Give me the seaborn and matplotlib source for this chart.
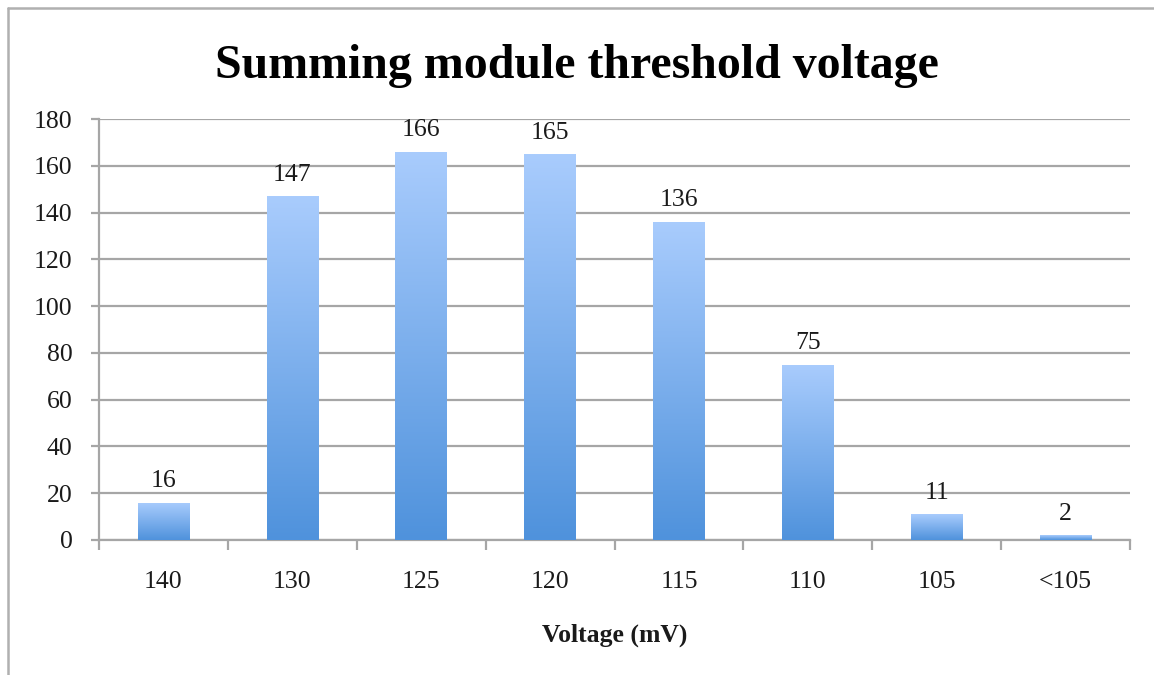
import numpy as np
import pandas as pd
import matplotlib
matplotlib.use("Agg")
import matplotlib.pyplot as plt
import seaborn as sns
from matplotlib.colors import LinearSegmentedColormap
from matplotlib.lines import Line2D

categories = ["140", "130", "125", "120", "115", "110", "105", "<105"]
counts = [16, 147, 166, 165, 136, 75, 11, 2]
y_ticks = [0, 20, 40, 60, 80, 100, 120, 140, 160, 180]

sns.set_theme(style="white")
plt.rcParams["font.family"] = ["Liberation Serif", "DejaVu Serif"]

df = pd.DataFrame({"voltage": categories, "count": counts})

fig = plt.figure(figsize=(11.54, 6.75), dpi=100)
ax = fig.add_axes([99 / 1154, 1 - 540 / 675, (1130 - 99) / 1154, (540 - 119) / 675])

sns.barplot(data=df, x="voltage", y="count", order=categories, width=0.40,
            color="#7fb0ee", ax=ax, zorder=3)

grid_col = "#a6a6a6"
ax.set_ylim(0, 180)
ax.set_xlim(-0.5, len(categories) - 0.5)
ax.set_yticks(y_ticks)
ax.yaxis.grid(True, color=grid_col, linewidth=1.6, zorder=0)
ax.set_axisbelow(True)

# vertical gradient fill for each bar (light top, deeper blue bottom)
cmap = LinearSegmentedColormap.from_list("bar_grad", ["#4f92dc", "#a9ccfd"])
grad = np.linspace(0, 1, 256).reshape(-1, 1)
for patch in list(ax.patches):
    x0, y0 = patch.get_x(), patch.get_y()
    w, h = patch.get_width(), patch.get_height()
    patch.set_facecolor("none")
    patch.set_edgecolor("none")
    im = ax.imshow(grad, cmap=cmap, origin="lower", aspect="auto",
                   extent=[x0, x0 + w, y0, y0 + h], zorder=3)
    im.set_clip_path(patch)
ax.set_xlim(-0.5, len(categories) - 0.5)
ax.set_ylim(0, 180)

# value labels above bars
for i, v in enumerate(counts):
    ax.text(i, v + 4.5, str(v), ha="center", va="bottom", fontsize=18.5,
            color="#1a1a1a", zorder=4)

for side in ["top", "right"]:
    ax.spines[side].set_visible(False)
for side in ["left", "bottom"]:
    ax.spines[side].set_color(grid_col)
    ax.spines[side].set_linewidth(1.6)

ax.tick_params(axis="y", which="major", left=True, length=6, width=1.6,
               color=grid_col, labelsize=18.5, labelcolor="#1a1a1a", pad=13)
ax.tick_params(axis="x", which="major", bottom=False, labelsize=18.5,
               labelcolor="#1a1a1a", pad=16)
# category divider ticks on the x axis
ax.set_xticks(np.arange(-0.5, len(categories), 1.0), minor=True)
ax.tick_params(axis="x", which="minor", bottom=True, length=7, width=1.6,
               color=grid_col, direction="out")

ax.set_xlabel("Voltage (mV)", fontsize=18.5, fontweight="bold", labelpad=22,
              color="#1a1a1a")
ax.set_ylabel("")

fig.text(0.5, 1 - 66 / 675, "Summing module threshold voltage", ha="center",
         va="center", fontsize=34.5, fontweight="bold", color="black")

# chart frame
fig.add_artist(Line2D([7.5 / 1154, 7.5 / 1154], [0, 1 - 8 / 675],
                      transform=fig.transFigure, color="#b0b0b0", lw=1.8))
fig.add_artist(Line2D([7.5 / 1154, 1], [1 - 8 / 675, 1 - 8 / 675],
                      transform=fig.transFigure, color="#b0b0b0", lw=1.8))

fig.savefig("out.png", dpi=100)
